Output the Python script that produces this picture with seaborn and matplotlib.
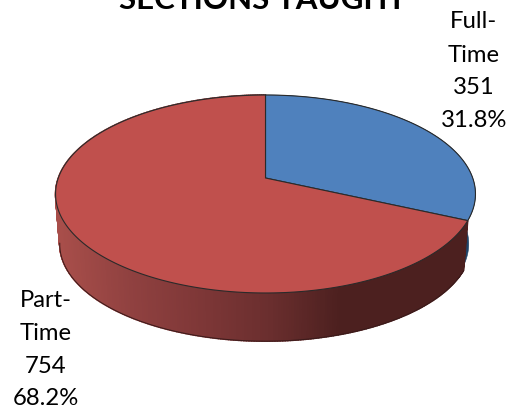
import numpy as np
import matplotlib
matplotlib.use("Agg")
import matplotlib.pyplot as plt
import seaborn as sns

title = "SECTIONS TAUGHT"
categories = ["Full-Time", "Part-Time"]
counts = [351, 754]
label_lines = [["Full-", "Time"], ["Part-", "Time"]]
top_colors = ["#4F81BD", "#C0504D"]
wall_blue = "#1F4468"
wall_reds = ["#A84E4A", "#904140", "#7E3737", "#6A2E2E", "#4C201F"]

sns.set_theme(style="white")
plt.rcParams["font.family"] = ["Lato", "DejaVu Sans"]

fig = plt.figure(figsize=(5.08, 4.11), dpi=100)
ax = fig.add_axes([0, 0, 1, 1])
ax.set_xlim(0, 508)
ax.set_ylim(411, 0)
ax.axis("off")

# perspective view of the pie disc
CX, CY, A, B, K = 265.5, 178.0, 207.2, 96.4, 0.1616
DROP, SHRINK, SHRINK_BLUE = 50.5, 0.98, 0.968


def project(theta, r=1.0, drop=0.0, scale=1.0):
    u, v = r * np.sin(theta), r * np.cos(theta)
    w = 1 + K * v
    return CX + scale * A * u / w, CY + drop - scale * B * v / w


shares = np.array(counts) / sum(counts)
edges = np.concatenate([[0], np.cumsum(shares)]) * 2 * np.pi

# side wall, drawn as narrow strips so the shading runs left to right
ramp = sns.blend_palette(wall_reds, 256)
ts = np.linspace(edges[1], edges[2], 400)
for t0, t1 in zip(ts[:-1], ts[1:]):
    xa, ya = project(np.array([t0, t1]))
    xb, yb = project(np.array([t1, t0]), drop=DROP, scale=SHRINK)
    mid = (xa.mean() - 58) / (340 - 58)
    col = ramp[int(np.clip(mid, 0, 1) * 255)]
    ax.fill(np.r_[xa, xb], np.r_[ya, yb], color=col, lw=1.1, zorder=2)

ts = np.linspace(edges[0], edges[1], 120)
xa, ya = project(ts)
xb, yb = project(ts[::-1], drop=DROP, scale=SHRINK_BLUE)
ax.fill(np.r_[xa, xb], np.r_[ya, yb], color=wall_blue, lw=0.4, zorder=1.5)

# lower outline of the wall, up to where the rim turns away from the viewer
ts = np.linspace(edges[1], 2 * np.pi * 0.726, 300)
xb, yb = project(ts, drop=DROP, scale=SHRINK)
ax.plot(xb, yb, color="#3A1A1A", lw=0.7, zorder=3)

# top face
for i, color in enumerate(top_colors):
    ts = np.linspace(edges[i], edges[i + 1], 300)
    x, y = project(ts)
    x0, y0 = project(0.0, r=0.0)
    ax.fill(np.r_[x0, x, x0], np.r_[y0, y, y0], facecolor=color,
            edgecolor="#2A2A2A", lw=0.8, joinstyle="round", zorder=4)

# labels
ax.text(262.5, 9, title, ha="center", va="baseline", fontsize=22.5,
        fontweight="bold", color="black", zorder=6)

label_pos = [(474, [22, 55, 88, 120]), (46, [300, 333, 366, 398])]
for i, (x, ys) in enumerate(label_pos):
    lines = label_lines[i] + [str(counts[i]), f"{shares[i] * 100:.1f}%"]
    for line, y in zip(lines, ys):
        ax.text(x, y, line, ha="center", va="center", fontsize=17.2,
                color="black", zorder=6)

fig.savefig("out.png", dpi=100, facecolor="white")
